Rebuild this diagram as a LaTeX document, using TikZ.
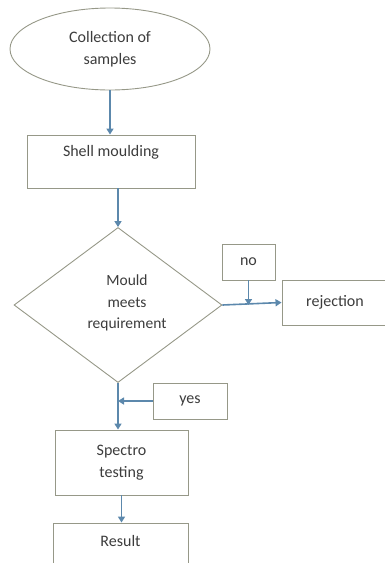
\documentclass[tikz,border=0pt]{standalone}
\usepackage{fontspec}
\setmainfont{Carlito}
\usepackage{tikz}
\usetikzlibrary{arrows.meta, positioning, shapes, calc}

\definecolor{flowline}{RGB}{92,136,172}
\definecolor{boxline}{RGB}{150,152,136}
\definecolor{boxtext}{RGB}{60,60,60}

\tikzset{
    stepbox/.style={draw=boxline, line width=0.9pt, rectangle, align=center,
        text=boxtext, font=\fontsize{16}{22}\selectfont},
    startbox/.style={stepbox, ellipse},
    checkbox/.style={stepbox, diamond, inner sep=0pt},
    flow/.style={draw=flowline, line width=1.6pt, -{Triangle[length=6pt, width=7pt]}}
}

\begin{document}
\begin{tikzpicture}[x=1pt, y=1pt]
    \useasboundingbox (0,0) rectangle (385,-563);

    \node[startbox, minimum width=200pt, minimum height=82pt] (samples) at (110,-49) {Collection of\\samples};
    \node[stepbox, minimum width=168pt, minimum height=53pt] (shell) at (111,-161.5) {Shell moulding\\~};
    \node[checkbox, minimum width=208pt, minimum height=155pt] (mould) at (118,-305) {};
    \node[text=boxtext, align=center, font=\fontsize{15.5}{21.5}\selectfont] (mouldtxt) at (127,-303) {Mould\\meets\\requirement};

    \node[stepbox, minimum width=53pt, minimum height=36pt] (no) at (248.5,-262) {no};
    \node[stepbox, minimum width=106pt, minimum height=45pt] (rej) at (335,-302.5) {rejection};
    \node[stepbox, minimum width=74pt, minimum height=36pt] (yes) at (190,-401) {yes};

    \node[stepbox, minimum width=133pt, minimum height=65pt] (spectro) at (121.5,-462.5) {Spectro\\testing};
    \node[stepbox, minimum width=135pt, minimum height=58pt] (result) at (120.5,-552) {Result\\~};

    % main flow
    \draw[flow] (samples.south) -- (samples.south |- shell.north);
    \draw[flow] (mould.north |- shell.south) -- (mould.north);
    \draw[flow] (mould.south) -- (mould.south |- spectro.north);
    \draw[flow] (spectro.south) -- (spectro.south |- result.north);

    % decision branches
    \coordinate (nojoin) at (no.south |- mould.east);
    \draw[flow] (mould.east) -- (rej.west);
    \draw[flow] (no.south) -- (nojoin);
    \draw[flow] (yes.west) -- (mould.south |- yes.west);
\end{tikzpicture}
\end{document}
